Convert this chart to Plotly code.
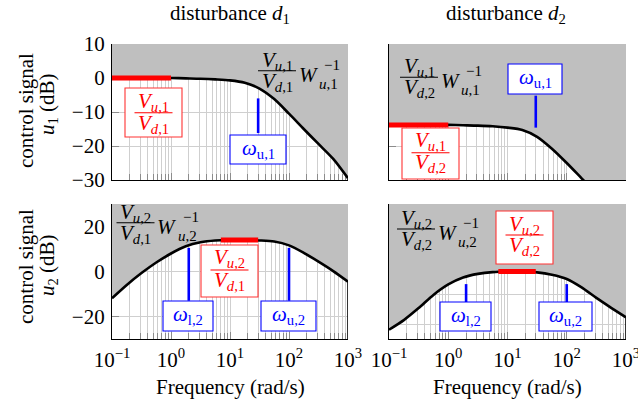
import plotly.graph_objects as go

# ---------------- data ----------------
freq = [0.1, 0.178, 0.316, 0.562, 1.0, 1.78, 3.16, 5.62, 10.0, 17.8, 31.6, 56.2,
        100.0, 178.0, 316.0, 562.0, 1000.0]

# V_u1/V_d1 * W_u1^-1   (dB)
mag_u1_d1 = [0.0, 0.0, 0.0, 0.0, 0.0, -0.1, -0.2, -0.4, -0.7, -1.4, -3.1, -6.2,
             -10.5, -15.0, -19.4, -23.8, -29.5]
# V_u1/V_d2 * W_u1^-1
mag_u1_d2 = [-13.8, -13.8, -13.8, -13.8, -13.8, -13.9, -14.0, -14.2, -14.6, -15.3,
             -17.3, -20.8, -25.0, -29.5, -34.0, -38.5, -43.0]
# V_u2/V_d1 * W_u2^-1
mag_u2_d1 = [-11.9, -6.0, -0.7, 4.0, 8.0, 11.2, 13.0, 13.8, 14.0, 14.0, 13.8, 13.3,
             11.6, 8.3, 4.4, 0.2, -4.5]
# V_u2/V_d2 * W_u2^-1
mag_u2_d2 = [-21.9, -18.7, -14.7, -10.3, -6.8, -4.5, -3.3, -2.7, -2.5, -2.5, -2.8,
             -3.6, -5.0, -7.8, -11.3, -14.6, -17.8]

# red segments: ratio V_u/V_d over its frequency band
ratio_x_low = [0.1, 1.0]
ratio_x_mid = [7.0, 30.0]
ratio_u1_d1 = 0.0
ratio_u1_d2 = -13.8
ratio_u2_d1 = 14.0
ratio_u2_d2 = -2.5

# blue markers: bandwidth frequencies and their vertical extents (dB)
omega_u1 = 30.0
omega_l2 = 2.0
omega_u2 = 100.0
mark_u1_d1 = [-6.0, -16.2]
mark_u1_d2 = [-5.2, -14.6]
mark_u2_d1 = [10.5, -13.0]
mark_u2_d2 = [-6.7, -12.8]

# axis ticks
x_ticks = [0.1, 1, 10, 100, 1000]
x_ticktext = ["10<sup>\u22121</sup>", "10<sup>0</sup>", "10<sup>1</sup>",
              "10<sup>2</sup>", "10<sup>3</sup>"]
x_minor = [k * 10.0 ** e for e in (-1, 0, 1, 2) for k in range(2, 10)]
y_ticks_top = [-30, -20, -10, 0, 10]
y_ticks_bl = [-20, 0, 20]
y_ticks_br = [-20, -10, 0, 10]

# ---------------- style ----------------
FONT = "Liberation Serif, 'Times New Roman', 'DejaVu Serif', serif"
FS = 21
GRAY = "#bfbfbf"
GRID = "#cfcfcf"
TICKC = "#8c8c8c"
RED = "#ff0000"
BLUE = "#0000ff"

W, H = 638, 404
ML, MR, MT, MB = 112, 12, 44, 65
PW = W - ML - MR
PH = H - MT - MB


def P(px, py):
    return (px - ML) / PW, (H - MB - py) / PH


fig = go.Figure()

panels = [
    dict(n="", yr=[-30, 10], yt=y_ticks_top, mag=mag_u1_d1, rx=ratio_x_low, ry=ratio_u1_d1,
         bx=[omega_u1], by=mark_u1_d1, xd=[0, 236 / PW], yd=[(H - MB - 180) / PH, 1],
         xl=False, yl=True),
    dict(n="2", yr=[-30, 10], yt=y_ticks_top, mag=mag_u1_d2, rx=ratio_x_low, ry=ratio_u1_d2,
         bx=[omega_u1], by=mark_u1_d2, xd=[277 / PW, 1], yd=[(H - MB - 180) / PH, 1],
         xl=False, yl=False),
    dict(n="3", yr=[-30, 30], yt=y_ticks_bl, mag=mag_u2_d1, rx=ratio_x_mid, ry=ratio_u2_d1,
         bx=[omega_l2, omega_u2], by=mark_u2_d1, xd=[0, 236 / PW], yd=[0, (H - MB - 204) / PH],
         xl=True, yl=True),
    dict(n="4", yr=[-25, 20], yt=y_ticks_br, mag=mag_u2_d2, rx=ratio_x_mid, ry=ratio_u2_d2,
         bx=[omega_l2, omega_u2], by=mark_u2_d2, xd=[277 / PW, 1], yd=[0, (H - MB - 204) / PH],
         xl=True, yl=False),
]

layout_axes = {}
for p in panels:
    xa, ya = "x" + p["n"], "y" + p["n"]
    ymin, top = p["yr"]
    # upper boundary of the grey region
    fig.add_trace(go.Scatter(x=[freq[0], freq[-1]], y=[top, top], xaxis=xa, yaxis=ya,
                             mode="lines", line=dict(width=0, color=GRAY),
                             hoverinfo="skip", showlegend=False))
    # weighted bound curve, grey above it
    fig.add_trace(go.Scatter(x=freq, y=p["mag"], xaxis=xa, yaxis=ya, mode="lines",
                             fill="tonexty", fillcolor=GRAY,
                             line=dict(color="black", width=2.6, shape="spline", smoothing=0.8),
                             hoverinfo="skip", showlegend=False))
    # right frame edge, visible only below the curve
    if p["mag"][-1] > ymin:
        fig.add_trace(go.Scatter(x=[freq[-1], freq[-1]], y=[ymin, p["mag"][-1]],
                                 xaxis=xa, yaxis=ya, mode="lines",
                                 line=dict(color="black", width=1.6),
                                 hoverinfo="skip", showlegend=False))
    # red ratio segment
    fig.add_trace(go.Scatter(x=p["rx"], y=[p["ry"], p["ry"]], xaxis=xa, yaxis=ya,
                             mode="lines", line=dict(color=RED, width=5),
                             hoverinfo="skip", showlegend=False))
    # blue bandwidth markers
    bxs, bys = [], []
    for f in p["bx"]:
        bxs += [f, f, None]
        bys += [p["by"][0], p["by"][1], None]
    fig.add_trace(go.Scatter(x=bxs, y=bys, xaxis=xa, yaxis=ya, mode="lines",
                             line=dict(color=BLUE, width=2.6),
                             hoverinfo="skip", showlegend=False))

    xkey = "xaxis" + p["n"]
    ykey = "yaxis" + p["n"]
    layout_axes[xkey] = dict(
        type="log", range=[-1, 3], domain=p["xd"], anchor=ya,
        tickmode="array", tickvals=x_ticks, ticktext=x_ticktext,
        showticklabels=p["xl"], ticks="inside", ticklen=7, tickwidth=1, tickcolor=TICKC,
        showgrid=True, gridcolor=GRID, gridwidth=1,
        minor=dict(tickmode="array", tickvals=x_minor, ticks="inside", ticklen=6,
                   tickwidth=1, tickcolor=TICKC, showgrid=True, gridcolor=GRID, gridwidth=1),
        showline=True, linecolor="black", linewidth=1.2, mirror=False,
        layer="below traces", zeroline=False, fixedrange=True, automargin=False,
        ticklabeloverflow="allow",
        tickfont=dict(family=FONT, size=FS, color="black"), ticklabelstandoff=2,
    )
    layout_axes[ykey] = dict(
        range=p["yr"], domain=p["yd"], anchor=xa,
        tickmode="array", tickvals=p["yt"],
        showticklabels=p["yl"], ticks="inside", ticklen=7, tickwidth=1, tickcolor=TICKC,
        showgrid=True, gridcolor=GRID, gridwidth=1,
        showline=True, linecolor="black", linewidth=1.2, mirror=False,
        layer="below traces", zeroline=False, fixedrange=True, automargin=False,
        ticklabeloverflow="allow",
        tickfont=dict(family=FONT, size=FS, color="black"), ticklabelstandoff=2,
    )

fig.update_layout(**layout_axes)


# ---------------- annotations / decorations ----------------
def txt(s, px, py, size=FS, color="black", angle=0, xanchor="center"):
    x, y = P(px, py)
    fig.add_annotation(text=s, x=x, y=y, xref="paper", yref="paper", showarrow=False,
                       font=dict(family=FONT, size=size, color=color),
                       xanchor=xanchor, yanchor="middle", textangle=angle)


def hbar(px0, px1, py, color, w=1.0):
    x0, y0 = P(px0, py)
    x1, _ = P(px1, py)
    fig.add_shape(type="line", xref="paper", yref="paper", x0=x0, x1=x1, y0=y0, y1=y0,
                  line=dict(color=color, width=w), layer="above")


def box(px0, py0, px1, py1, color):
    x0, y0 = P(px0, py1)
    x1, y1 = P(px1, py0)
    fig.add_shape(type="rect", xref="paper", yref="paper", x0=x0, x1=x1, y0=y0, y1=y1,
                  fillcolor="white", line=dict(color=color, width=1.1), layer="above")


def frac(num, den, cx, ynum, ybar, yden, half, color):
    txt(num, cx, ynum, color=color)
    hbar(cx - half, cx + half, ybar, color, 1.1)
    txt(den, cx, yden, color=color)


def V(a, k):
    return "<i>V</i><sub><i>%s</i>,%s</sub>" % (a, k)


# titles
txt("disturbance <i>d</i><sub>1</sub>", 230, 14)
txt("disturbance <i>d</i><sub>2</sub>", 506, 14)
# y titles
txt("control signal", 26, 111, angle=-90)
txt("<i>u</i><sub>1</sub> (dB)", 48, 104, angle=-90)
txt("control signal", 26, 267, angle=-90)
txt("<i>u</i><sub>2</sub> (dB)", 48, 265, angle=-90)
# x titles
txt("Frequency (rad/s)", 230, 387)
txt("Frequency (rad/s)", 507, 387)


def weight_label(k_u, k_d, cx, ybar):
    frac(V("u", k_u), V("d", k_d), cx, ybar - 10, ybar, ybar + 11, 19, "black")
    txt("<i>W</i>", cx + 31.5, ybar + 4)
    txt("\u22121", cx + 45, ybar - 6, size=15, xanchor="left")
    txt("<i>u</i>,%s" % k_u, cx + 40, ybar + 13, size=15, xanchor="left")


weight_label(1, 1, 277, 70.7)
weight_label(1, 2, 419, 77.3)
weight_label(2, 1, 135.5, 222.7)
weight_label(2, 2, 416, 229)

# red ratio boxes
box(125, 88, 182, 137, "#ff3333")
frac(V("u", 1), V("d", 1), 153.5, 101.5, 112.7, 124, 19, RED)
box(402, 128, 459, 179, "#ff3333")
frac(V("u", 1), V("d", 2), 430.5, 141, 152.7, 163, 19, RED)
box(201, 245, 258, 297, "#ff3333")
frac(V("u", 2), V("d", 1), 229.5, 258, 270, 281, 19, RED)
box(496, 211, 553, 264, "#ff3333")
frac(V("u", 2), V("d", 2), 524.5, 225, 235, 246, 19, RED)

# blue omega boxes
def omega_box(sub, px0, px1, py0, py1):
    box(px0, py0, px1, py1, BLUE)
    txt("<i>\u03c9</i><sub>%s</sub>" % sub, (px0 + px1) / 2, (py0 + py1) / 2 - 1, color=BLUE)


omega_box("u,1", 230, 286, 135, 164)
omega_box("u,1", 508, 562, 64, 94)
omega_box("l,2", 163, 213, 301, 331)
omega_box("u,2", 261, 316, 301, 331)
omega_box("l,2", 440, 491, 302, 331)
omega_box("u,2", 539, 592, 302, 331)

fig.update_layout(
    width=W, height=H, margin=dict(l=ML, r=MR, t=MT, b=MB, autoexpand=False),
    paper_bgcolor="white", plot_bgcolor="white", showlegend=False, hovermode=False,
    font=dict(family=FONT, size=FS, color="black"),
)

fig.write_html("out.html", config={"displayModeBar": False},
               post_script="document.body.style.margin='0';document.body.style.overflow='hidden';")
